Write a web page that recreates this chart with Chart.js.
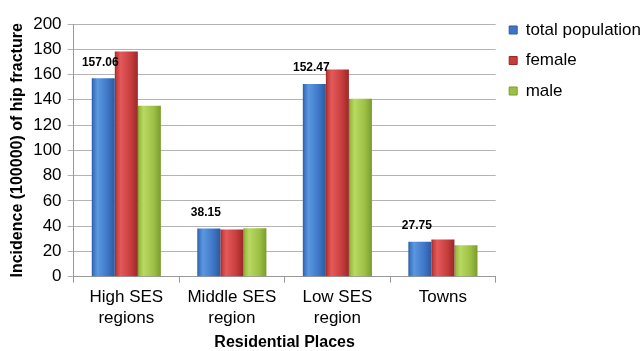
<!DOCTYPE html>
<html>
<head>
<meta charset="utf-8">
<script src="https://cdn.jsdelivr.net/npm/chart.js@4.4.1/dist/chart.umd.min.js"></script>
<style>
  html, body { margin: 0; padding: 0; background: #fff; }
  #wrap { width: 644px; height: 351px; }
</style>
</head>
<body>
<div id="wrap"><canvas id="chart"></canvas></div>
<script>
// === DATA ===
const categories = [['High SES', 'regions'], ['Middle SES', 'region'], ['Low SES', 'region'], 'Towns'];
const seriesNames = ['total population', 'female', 'male'];
const totalPopulation = [157.06, 38.15, 152.47, 27.75];
const female = [178.3, 37.3, 164.0, 29.5];
const male = [135.3, 38.4, 140.8, 24.8];
const yTicks = [0, 20, 40, 60, 80, 100, 120, 140, 160, 180, 200];
const totalLabels = ['157.06', '38.15', '152.47', '27.75'];

const CAT_PCT = 0.655;
const FONT = "'Liberation Sans', Arial, Helvetica, sans-serif";

// dark edge, highlight, body
const SHADES = {
    blue:  ['#2d5a9c', '#5b98e0', '#3d76c6'],
    red:   ['#9a2828', '#e45a5a', '#c73c3c'],
    green: ['#7a9c2e', '#b9d962', '#9cbf44']
};

// horizontal gradient per bar, computed from the x scale
function barFill(sh) {
    return c => {
        const chart = c.chart, x = chart.scales && chart.scales.x;
        if (c.type !== 'data' || !x || !chart.chartArea) return sh[2];
        const catW = (x.right - x.left) / categories.length;
        const groupW = catW * CAT_PCT, barW = groupW / seriesNames.length;
        const left = x.getPixelForValue(c.dataIndex) - groupW / 2 + c.datasetIndex * barW;
        const g = chart.ctx.createLinearGradient(left, 0, left + barW, 0);
        g.addColorStop(0, sh[0]);
        g.addColorStop(0.08, sh[2]);
        g.addColorStop(0.25, sh[1]);
        g.addColorStop(0.7, sh[2]);
        g.addColorStop(1, sh[0]);
        return g;
    };
}

const valueLabels = {
    id: 'valueLabels',
    afterDatasetsDraw(chart) {
        const ctx = chart.ctx;
        const meta = chart.getDatasetMeta(0);
        ctx.save();
        ctx.font = "bold 12px " + FONT;
        ctx.fillStyle = '#000';
        ctx.textAlign = 'center';
        ctx.textBaseline = 'middle';
        meta.data.forEach((bar, i) => ctx.fillText(totalLabels[i], bar.x - 3, bar.y - 16));
        ctx.restore();
    }
};

// lift the legend up closer to the top edge
const legendLift = {
    id: 'legendLift',
    afterLayout(chart) {
        const lg = chart.legend;
        if (lg) { lg.top -= 16; lg.bottom -= 16; }
    }
};

const seriesColors = [SHADES.blue, SHADES.red, SHADES.green];

new Chart(document.getElementById('chart'), {
    type: 'bar',
    data: {
        labels: categories,
        datasets: [totalPopulation, female, male].map((d, i) => ({
            label: seriesNames[i],
            data: d,
            backgroundColor: barFill(seriesColors[i]),
            borderWidth: 0,
            barPercentage: 1,
            categoryPercentage: CAT_PCT
        }))
    },
    options: {
        responsive: true, maintainAspectRatio: false, animation: false,
        layout: { padding: { top: 24, right: -7, left: 8, bottom: 0 } },
        plugins: {
            tooltip: { enabled: false },
            legend: {
                position: 'right', align: 'start',
                labels: {
                    color: '#000', font: { family: FONT, size: 17 },
                    boxWidth: 8, boxHeight: 8, padding: 13.5,
                    generateLabels: chart => seriesNames.map((n, i) => ({
                        text: n, fillStyle: seriesColors[i][2], strokeStyle: seriesColors[i][0],
                        lineWidth: 1, datasetIndex: i, hidden: false
                    }))
                }
            }
        },
        scales: {
            x: {
                grid: { drawOnChartArea: false, offset: true, tickLength: 6, color: '#999' },
                border: { color: '#999' },
                ticks: { color: '#000', font: { family: FONT, size: 17, lineHeight: 1.25 }, maxRotation: 0, padding: 4 },
                title: { display: true, text: 'Residential Places', color: '#000',
                         font: { family: FONT, size: 16, weight: 'bold', lineHeight: 1.05 }, padding: { top: 1, bottom: 0 } }
            },
            y: {
                min: 0, max: 200,
                afterBuildTicks: s => { s.ticks = yTicks.map(v => ({ value: v })); },
                grid: { color: '#b3b3b3', tickLength: 6 },
                border: { color: '#999' },
                ticks: { color: '#000', font: { family: FONT, size: 17 }, padding: 6 },
                title: { display: true, text: 'Incidence (100000) of hip fracture', color: '#000',
                         font: { family: FONT, size: 16, weight: 'bold' }, padding: { top: 0, bottom: 0 } }
            }
        }
    },
    plugins: [valueLabels, legendLift]
});
</script>
</body>
</html>
